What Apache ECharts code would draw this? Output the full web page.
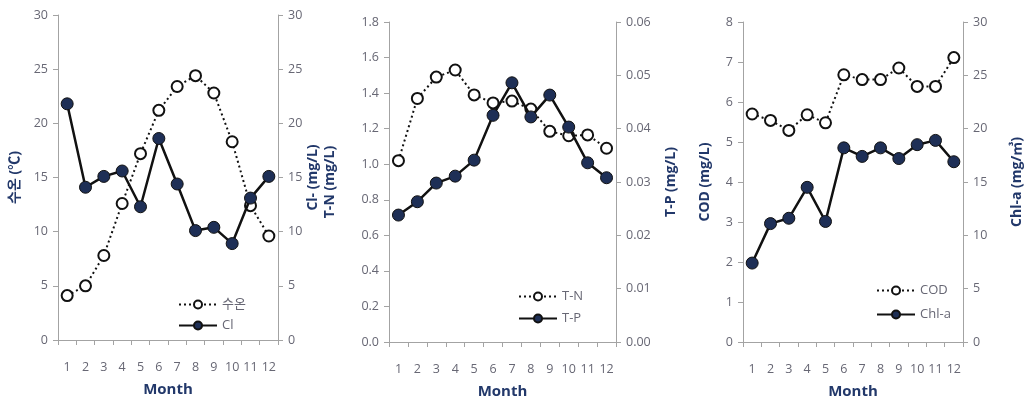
<!DOCTYPE html>
<html>
<head>
<meta charset="utf-8">
<script src="https://cdn.jsdelivr.net/npm/echarts@6/dist/echarts.min.js"></script>
<style>
  html, body { margin: 0; padding: 0; background: #fff; }
  #chart { width: 1028px; height: 399px; }
</style>
</head>
<body>
<div id="chart"></div>
<script>
// Monthly water-quality measurements
const months = ['1', '2', '3', '4', '5', '6', '7', '8', '9', '10', '11', '12'];

const waterTemp = [4.1, 5.0, 7.8, 12.6, 17.2, 21.2, 23.4, 24.4, 22.8, 18.3, 12.4, 9.6];
const chloride = [21.8, 14.1, 15.1, 15.6, 12.3, 18.6, 14.4, 10.1, 10.4, 8.9, 13.1, 15.1];

const totalN = [1.02, 1.37, 1.49, 1.53, 1.39, 1.345, 1.355, 1.31, 1.185, 1.16, 1.165, 1.09];
const totalP = [0.0238, 0.0263, 0.0298, 0.0311, 0.0341, 0.0425, 0.0486, 0.0422, 0.0463, 0.0403, 0.0336, 0.0308];

const cod = [5.70, 5.54, 5.29, 5.68, 5.48, 6.68, 6.56, 6.56, 6.85, 6.39, 6.39, 7.11];
const chlA = [7.4, 11.1, 11.6, 14.5, 11.3, 18.2, 17.4, 18.2, 17.2, 18.5, 18.9, 16.9];

const FONT = "'Open Sans', 'Noto Sans CJK KR', sans-serif";
const AXIS_GREY = '#a3a3a3';
const LABEL_GREY = '#676774';
const NAME_BLUE = '#22386a';
const MARKER_NAVY = '#1e2f56';

// Fixed plot rectangles; names and labels sit outside them
const grids = [
  { left: 58, width: 220, top: 15, bottom: 59, outerBoundsMode: 'none', containLabel: false },
  { left: 389, width: 227, top: 22, bottom: 57, outerBoundsMode: 'none', containLabel: false },
  { left: 743, width: 220, top: 22, bottom: 57, outerBoundsMode: 'none', containLabel: false }
];

function xAxis(gridIndex) {
  return {
    type: 'category',
    gridIndex,
    data: months,
    boundaryGap: true,
    name: 'Month',
    nameLocation: 'middle',
    nameGap: 42,
    nameTextStyle: { color: NAME_BLUE, fontWeight: 'bold', fontSize: 15, fontFamily: FONT },
    axisLine: { show: true, lineStyle: { color: AXIS_GREY, width: 1 } },
    axisTick: { show: true, length: 5, lineStyle: { color: AXIS_GREY } },
    axisLabel: { color: LABEL_GREY, fontSize: 12.5, fontFamily: FONT, margin: 21, interval: 0 },
    splitLine: { show: false }
  };
}

function yAxis(gridIndex, position, min, max, interval, decimals, name, nameGap) {
  return {
    type: 'value',
    gridIndex,
    position,
    min, max, interval,
    name,
    nameLocation: 'middle',
    nameRotate: 90,
    nameGap,
    nameTextStyle: { color: NAME_BLUE, fontWeight: 'bold', fontSize: 14, fontFamily: FONT },
    axisLine: { show: true, lineStyle: { color: AXIS_GREY, width: 1 } },
    axisTick: { show: true, length: 5, lineStyle: { color: AXIS_GREY } },
    axisLabel: {
      color: LABEL_GREY, fontSize: 12.5, fontFamily: FONT, margin: 10,
      formatter: v => v.toFixed(decimals)
    },
    splitLine: { show: false }
  };
}

function openSeries(name, data, xi, yi) {
  return {
    name, type: 'line', data, xAxisIndex: xi, yAxisIndex: yi,
    symbol: 'circle', symbolSize: 11, z: 2,
    lineStyle: { color: '#111', width: 2, type: [2, 3] },
    itemStyle: { color: '#fff', borderColor: '#111', borderWidth: 2 }
  };
}

function filledSeries(name, data, xi, yi) {
  return {
    name, type: 'line', data, xAxisIndex: xi, yAxisIndex: yi,
    symbol: 'circle', symbolSize: 12, z: 3,
    lineStyle: { color: '#111', width: 2.5, type: 'solid' },
    itemStyle: { color: MARKER_NAVY, borderColor: '#111', borderWidth: 1 }
  };
}

function legend(names, left, top, gap) {
  return {
    data: names,
    orient: 'vertical',
    left, top,
    itemWidth: 38,
    itemHeight: 10,
    itemGap: gap,
    textStyle: { color: LABEL_GREY, fontSize: 13, fontFamily: FONT },
    selectedMode: false
  };
}

const option = {
  backgroundColor: '#fff',
  animation: false,
  grid: grids,
  xAxis: [xAxis(0), xAxis(1), xAxis(2)],
  yAxis: [
    yAxis(0, 'left', 0, 30, 5, 0, '수온 (℃)', 36),
    yAxis(0, 'right', 0, 30, 5, 0, 'Cl- (mg/L)', 28),
    yAxis(1, 'left', 0, 1.8, 0.2, 1, 'T-N (mg/L)', 52),
    yAxis(1, 'right', 0, 0.06, 0.01, 2, 'T-P (mg/L)', 48),
    yAxis(2, 'left', 0, 8, 1, 0, 'COD (mg/L)', 31),
    yAxis(2, 'right', 0, 30, 5, 0, 'Chl-a (mg/㎥)', 47)
  ],
  legend: [
    legend(['수온', 'Cl'], 173, 293, 8),
    legend(['T-N', 'T-P'], 513, 285, 9),
    legend(['COD', 'Chl-a'], 871, 279, 11)
  ],
  series: [
    openSeries('수온', waterTemp, 0, 0),
    filledSeries('Cl', chloride, 0, 1),
    openSeries('T-N', totalN, 1, 2),
    filledSeries('T-P', totalP, 1, 3),
    openSeries('COD', cod, 2, 4),
    filledSeries('Chl-a', chlA, 2, 5)
  ]
};

const chart = echarts.init(document.getElementById('chart'), null, { renderer: 'canvas' });
chart.setOption(option);
</script>
</body>
</html>
